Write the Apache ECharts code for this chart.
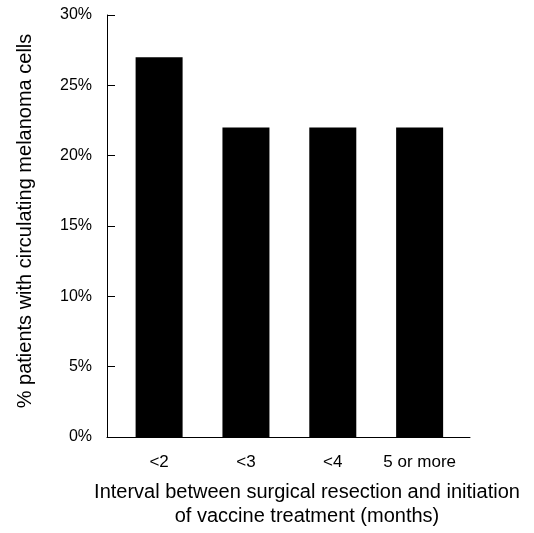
<!DOCTYPE html>
<html>
<head>
<meta charset="utf-8">
<script src="https://cdn.jsdelivr.net/npm/echarts@6/dist/echarts.min.js"></script>
<style>
html,body{margin:0;padding:0;background:#fff;}
#c{width:534px;height:533px;}
</style>
</head>
<body>
<div id="c"></div>
<script>
const categories = ['<2', '<3', '<4', '5 or more'];
const values = [27, 22, 22, 22];
const yTicks = [0, 5, 10, 15, 20, 25, 30];

const chart = echarts.init(document.getElementById('c'));
const font = 'Liberation Sans, Arial, Helvetica, sans-serif';
chart.setOption({
  animation: false,
  backgroundColor: '#fff',
  grid: { left: 107, width: 363, top: 15, height: 424 },
  xAxis: {
    type: 'value',
    min: 0.4,
    max: 4.58,
    splitLine: { show: false },
    axisLine: { show: true, lineStyle: { color: '#000', width: 1 } },
    axisTick: { show: false },
    axisLabel: {
      customValues: [1, 2, 3, 4],
      formatter: v => categories[Math.round(v) - 1] || '',
      color: '#000', fontSize: 17, fontFamily: font, margin: 17
    },
    name: 'Interval between surgical resection and initiation\nof vaccine treatment (months)',
    nameLocation: 'middle',
    nameGap: 43,
    nameTextStyle: { color: '#000', fontSize: 20, fontFamily: font, lineHeight: 24, padding: [0, 0, 0, 37] }
  },
  yAxis: {
    type: 'value',
    min: 0, max: 30, interval: 5,
    splitLine: { show: false },
    axisLine: { show: true, lineStyle: { color: '#000', width: 1 } },
    axisTick: { show: true, inside: true, length: 8, lineStyle: { color: '#000' } },
    axisLabel: {
      customValues: yTicks,
      formatter: v => v + '%',
      color: '#000', fontSize: 16, fontFamily: font, margin: 15
    },
    name: '% patients with circulating melanoma cells',
    nameLocation: 'middle',
    nameGap: 72,
    nameTextStyle: { color: '#000', fontSize: 20, fontFamily: font, padding: [0, 0, 0, 10] }
  },
  series: [{
    type: 'bar',
    barWidth: 47,
    itemStyle: { color: '#000' },
    data: values.map((v, i) => [i + 1, v])
  }]
});
</script>
</body>
</html>
